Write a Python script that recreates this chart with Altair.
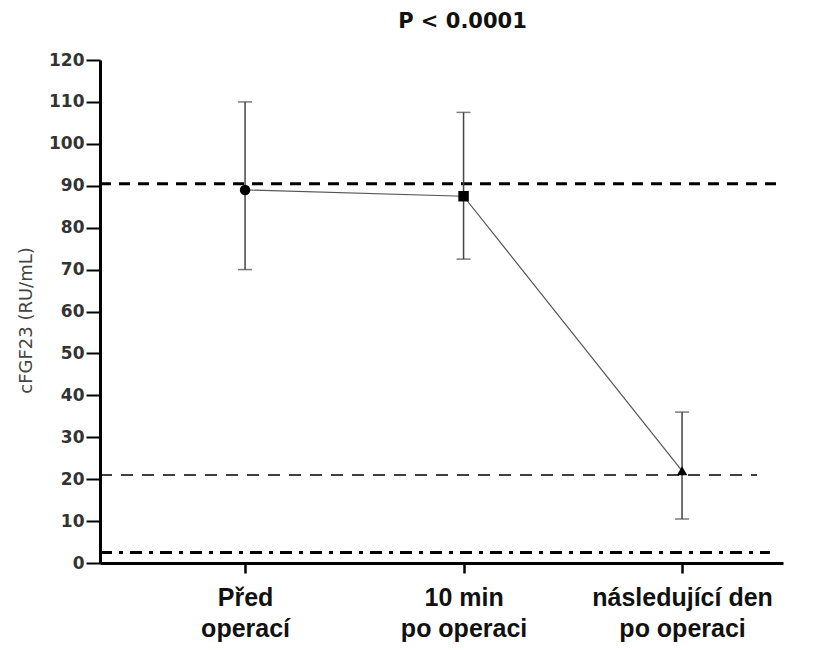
import altair as alt
import pandas as pd

# categories (x positions 1,2,3)
categories = ["Před operací", "10 min po operaci", "následující den po operaci"]
xpos = [1, 2, 3]
means = [89, 87.5, 22]
err_low = [70, 72.5, 10.5]
err_high = [110, 107.5, 36]
shapes = ["circle", "square", "triangle-up"]

# reference lines
ref_y = [90.5, 21, 2.5]
ref_x_start = [0.336, 0.336, 0.336]
ref_x_end = [3.462, 3.343, 3.402]
ref_kind = ["thick", "thin", "dashdot"]

y_ticks = list(range(0, 121, 10))
x_domain = [0.336, 3.462]

df = pd.DataFrame({"cat": categories, "x": xpos, "mean": means,
                   "lo": err_low, "hi": err_high, "shape": shapes})
ref = pd.DataFrame({"y": ref_y, "x1": ref_x_start, "x2": ref_x_end, "kind": ref_kind})

label_expr = ("datum.value == 1 ? ['Před', 'operací'] : datum.value == 2 ? "
              "['10 min', 'po operaci'] : ['následující den', 'po operaci']")

xs = alt.Scale(domain=x_domain, nice=False, zero=False)
ys = alt.Scale(domain=[0, 120], nice=False)

x_axis = alt.Axis(values=xpos, labelExpr=label_expr, title=None, domainWidth=3,
                  domainColor="black", tickColor="black", tickWidth=2.5, tickSize=10,
                  labelFont="Liberation Sans", labelFontWeight="bold",
                  labelFontSize=25, labelColor="#111", labelPadding=12,
                  labelLineHeight=31, grid=False, labelBaseline="top",
                  labelLimit=400)
y_axis = alt.Axis(values=y_ticks, title="cFGF23 (RU/mL)", domainWidth=3,
                  domainColor="black", tickColor="black", tickWidth=2, tickSize=14,
                  labelFont="DejaVu Sans", labelFontWeight="bold", labelFontSize=17,
                  labelColor="#333", labelPadding=2, titleFont="DejaVu Sans",
                  titleFontWeight="normal", titleFontSize=18, titleColor="#444",
                  titlePadding=13, titleY=260, grid=False)

base = alt.Chart(df)

line = base.mark_line(color="#555", strokeWidth=1.2).encode(
    x=alt.X("x:Q", scale=xs, axis=x_axis),
    y=alt.Y("mean:Q", scale=ys, axis=y_axis),
)
err = base.mark_rule(color="#444", strokeWidth=1.5).encode(
    x="x:Q", y="lo:Q", y2="hi:Q")
cap_lo = base.mark_tick(color="#444", thickness=1.5, size=14, orient="horizontal").encode(
    x="x:Q", y="lo:Q")
cap_hi = base.mark_tick(color="#444", thickness=1.5, size=14, orient="horizontal").encode(
    x="x:Q", y="hi:Q")
pts = base.mark_point(filled=True, color="black", size=110, opacity=1).encode(
    x="x:Q", y="mean:Q",
    shape=alt.Shape("shape:N", scale=None, legend=None))

refc = alt.Chart(ref)
r_thick = refc.transform_filter("datum.kind == 'thick'").mark_rule(
    color="black", strokeWidth=3, strokeDash=[11, 8]).encode(x="x1:Q", x2="x2:Q", y="y:Q")
r_thin = refc.transform_filter("datum.kind == 'thin'").mark_rule(
    color="black", strokeWidth=1.3, strokeDash=[12, 9]).encode(x="x1:Q", x2="x2:Q", y="y:Q")
r_dd = refc.transform_filter("datum.kind == 'dashdot'").mark_rule(
    color="black", strokeWidth=3, strokeDash=[12, 7, 4, 7]).encode(x="x1:Q", x2="x2:Q", y="y:Q")

chart = alt.layer(line, r_thick, r_thin, r_dd, err, cap_lo, cap_hi, pts).properties(
    width=683, height=503,
    title=alt.TitleParams("P < 0.0001", font="DejaVu Sans", fontWeight="bold",
                          fontSize=21, color="#111", dx=21, offset=19),
    padding={"left": 92, "top": 52, "right": 20, "bottom": 80},
    autosize=alt.AutoSizeParams(type="none"),
).configure_view(stroke=None)

chart.save("out.html", embed_options={"renderer": "svg", "actions": False})
